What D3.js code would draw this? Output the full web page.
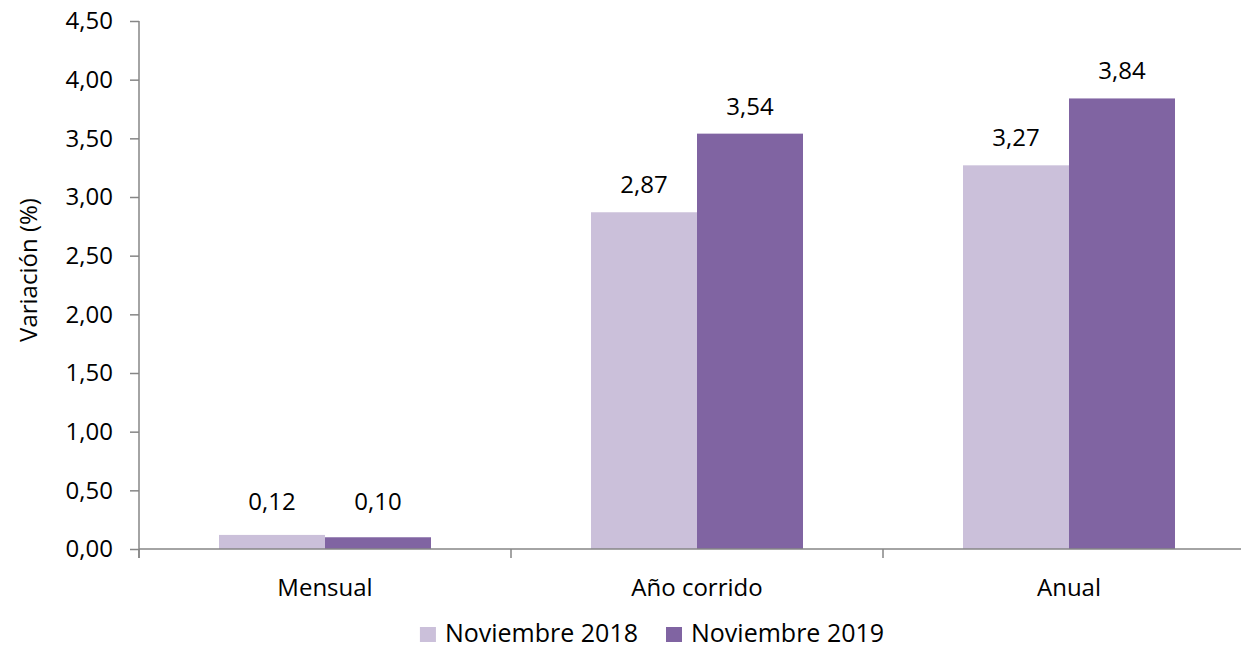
<!DOCTYPE html>
<html>
<head>
<meta charset="utf-8">
<script src="https://cdn.jsdelivr.net/npm/d3@7"></script>
<style>
  html, body { margin: 0; padding: 0; background: #fff; }
  svg { display: block; font-family: "Open Sans", "Noto Sans", sans-serif; }
</style>
</head>
<body>
<svg id="chart" width="1241" height="648"></svg>
<script>
const categories = ["Mensual", "Año corrido", "Anual"];
const seriesNames = ["Noviembre 2018", "Noviembre 2019"];
const values2018 = [0.12, 2.87, 3.27];
const values2019 = [0.10, 3.54, 3.84];
const yTicks = [0, 0.5, 1, 1.5, 2, 2.5, 3, 3.5, 4, 4.5];
const colors = ["#CBC0DA", "#8064A2"];
const yTitle = "Variación (%)";

const seriesValues = [values2018, values2019];
const fmt = v => d3.format(".2f")(v).replace(".", ",");

const svg = d3.select("#chart");
const axisColor = "#868686";
const fontSize = 24;

const x0 = d3.scaleBand().domain(categories).range([139, 1255]).paddingInner(0).paddingOuter(0);
const x1 = d3.scaleBand().domain(seriesNames).range([0, 212]);
const y = d3.scaleLinear().domain([0, 4.5]).range([549, 21]);

// bars
categories.forEach((cat, ci) => {
  const cx = x0(cat) + x0.bandwidth() / 2;
  const g = svg.append("g").attr("transform", `translate(${cx - 106},0)`);
  seriesNames.forEach((s, si) => {
    const v = seriesValues[si][ci];
    g.append("rect")
      .attr("x", x1(s))
      .attr("width", x1.bandwidth())
      .attr("y", y(v))
      .attr("height", y(0) - y(v))
      .attr("fill", colors[si]);
    g.append("text")
      .attr("x", x1(s) + x1.bandwidth() / 2)
      .attr("y", Math.min(y(v) - 19, y(0) - 39))
      .attr("text-anchor", "middle")
      .attr("font-size", fontSize)
      .attr("fill", "#000")
      .text(fmt(v));
  });
});

// y axis
const yAxis = d3.axisLeft(y).tickValues(yTicks).tickSize(9).tickPadding(17).tickFormat(fmt);
const yg = svg.append("g").attr("transform", "translate(139,0)").call(yAxis);
yg.attr("font-size", fontSize).attr("font-family", null);
yg.select(".domain").remove();
yg.selectAll(".tick line").attr("stroke", axisColor).attr("stroke-width", 1.5);
yg.selectAll(".tick text").attr("fill", "#000");
svg.append("line").attr("x1", 139).attr("x2", 139).attr("y1", 21).attr("y2", 558)
  .attr("stroke", axisColor).attr("stroke-width", 1.5);

// x axis
svg.append("line").attr("x1", 139).attr("x2", 1241).attr("y1", y(0)).attr("y2", y(0))
  .attr("stroke", axisColor).attr("stroke-width", 1.5);
const bounds = categories.map(c => x0(c)).concat([x0.range()[1]]);
bounds.forEach(bx => {
  svg.append("line").attr("x1", bx).attr("x2", bx).attr("y1", y(0)).attr("y2", y(0) + 9)
    .attr("stroke", axisColor).attr("stroke-width", 1.5);
});
categories.forEach(cat => {
  svg.append("text")
    .attr("x", x0(cat) + x0.bandwidth() / 2)
    .attr("y", 596)
    .attr("text-anchor", "middle")
    .attr("font-size", fontSize)
    .text(cat);
});

// y title
svg.append("text")
  .attr("transform", "translate(37,270) rotate(-90)")
  .attr("text-anchor", "middle")
  .attr("font-size", fontSize)
  .text(yTitle);

// legend
const legend = svg.append("g");
let lx = 0;
seriesNames.forEach((s, i) => {
  const item = legend.append("g").attr("transform", `translate(${lx},0)`);
  item.append("rect").attr("x", 0).attr("y", 627).attr("width", 16).attr("height", 15).attr("fill", colors[i]);
  const t = item.append("text").attr("x", 25).attr("y", 642).attr("font-size", 25).text(s);
  lx += 25 + t.node().getComputedTextLength() + 28;
});
const legendWidth = lx - 28;
legend.attr("transform", `translate(${652 - legendWidth / 2},0)`);
</script>
</body>
</html>
